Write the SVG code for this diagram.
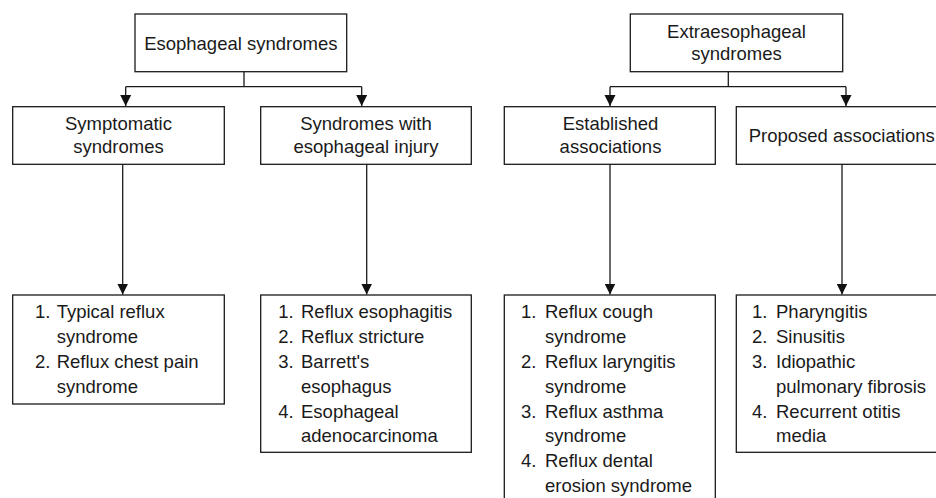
<svg xmlns="http://www.w3.org/2000/svg" width="936" height="498" viewBox="0 0 936 498">
<style>
.box{fill:#fff;stroke:#1a1a1a;stroke-width:1.3}
.t{font-family:"Liberation Sans",Arial,Helvetica,sans-serif;font-size:18.5px;fill:#1a1a1a}
.c{text-anchor:middle}
.ln{fill:none;stroke:#1a1a1a;stroke-width:1.3}
</style>
<defs>
<marker id="ah" markerUnits="userSpaceOnUse" markerWidth="12" markerHeight="12" viewBox="0 0 12 12" refX="11" refY="6" orient="auto">
<path d="M0,0.5 L11,6 L0,11.5 Z" fill="#111"/>
</marker>
</defs>
<rect width="936" height="498" fill="#fff"/>
<g id="connectors">
<path class="ln" d="M244,72 V86.7 M125.7,86.7 H361.7"/>
<path class="ln" d="M125.7,86.7 V106" marker-end="url(#ah)"/>
<path class="ln" d="M361.7,86.7 V106" marker-end="url(#ah)"/>
<path class="ln" d="M728.3,72 V86.7 M610,86.7 H846"/>
<path class="ln" d="M610,86.7 V106" marker-end="url(#ah)"/>
<path class="ln" d="M846,86.7 V106" marker-end="url(#ah)"/>
<path class="ln" d="M122.7,164.3 V294.5" marker-end="url(#ah)"/>
<path class="ln" d="M366.7,164.3 V294.5" marker-end="url(#ah)"/>
<path class="ln" d="M610,164.3 V294.5" marker-end="url(#ah)"/>
<path class="ln" d="M842,164.3 V294.5" marker-end="url(#ah)"/>
</g>
<g id="esophageal">
<rect class="box" x="135" y="14" width="211.7" height="57.7"/>
<text class="t c" x="240.8" y="50">Esophageal syndromes</text>
</g>
<g id="extraesophageal">
<rect class="box" x="630.3" y="14" width="212.4" height="57.7"/>
<text class="t c" x="736.5" y="37.6">Extraesophageal</text>
<text class="t c" x="736.5" y="60.3">syndromes</text>
</g>
<g id="symptomatic">
<rect class="box" x="12.7" y="106.7" width="211.6" height="57.6"/>
<text class="t c" x="118.5" y="130">Symptomatic</text>
<text class="t c" x="118.5" y="152.8">syndromes</text>
</g>
<g id="injury">
<rect class="box" x="260.7" y="106.7" width="210.6" height="57.6"/>
<text class="t c" x="366" y="130">Syndromes with</text>
<text class="t c" x="366" y="152.8">esophageal injury</text>
</g>
<g id="established">
<rect class="box" x="504.3" y="106.7" width="211" height="57.6"/>
<text class="t c" x="610.5" y="130">Established</text>
<text class="t c" x="610.5" y="152.8">associations</text>
</g>
<g id="proposed">
<rect class="box" x="736.3" y="106.7" width="212" height="57.6"/>
<text class="t c" x="841.7" y="141.7">Proposed associations</text>
</g>
<g id="symptomatic-list">
<rect class="box" x="12.7" y="295" width="211.6" height="109"/>
<text class="t" x="35" y="318.3">1.</text><text class="t" x="56.7" y="318.3">Typical reflux</text>
<text class="t" x="56.7" y="343.1">syndrome</text>
<text class="t" x="35" y="367.9">2.</text><text class="t" x="56.7" y="367.9">Reflux chest pain</text>
<text class="t" x="56.7" y="392.7">syndrome</text>
</g>
<g id="injury-list">
<rect class="box" x="260.7" y="295" width="210.6" height="157.3"/>
<text class="t" x="278.3" y="318.3">1.</text><text class="t" x="301" y="318.3">Reflux esophagitis</text>
<text class="t" x="278.3" y="343.1">2.</text><text class="t" x="301" y="343.1">Reflux stricture</text>
<text class="t" x="278.3" y="367.9">3.</text><text class="t" x="301" y="367.9">Barrett's</text>
<text class="t" x="301" y="392.7">esophagus</text>
<text class="t" x="278.3" y="417.5">4.</text><text class="t" x="301" y="417.5">Esophageal</text>
<text class="t" x="301" y="442.3">adenocarcinoma</text>
</g>
<g id="established-list">
<rect class="box" x="504.3" y="295" width="211" height="220"/>
<text class="t" x="521" y="318.3">1.</text><text class="t" x="545" y="318.3">Reflux cough</text>
<text class="t" x="545" y="343.1">syndrome</text>
<text class="t" x="521" y="367.9">2.</text><text class="t" x="545" y="367.9">Reflux laryngitis</text>
<text class="t" x="545" y="392.7">syndrome</text>
<text class="t" x="521" y="417.5">3.</text><text class="t" x="545" y="417.5">Reflux asthma</text>
<text class="t" x="545" y="442.3">syndrome</text>
<text class="t" x="521" y="467.1">4.</text><text class="t" x="545" y="467.1">Reflux dental</text>
<text class="t" x="545" y="491.9">erosion syndrome</text>
</g>
<g id="proposed-list">
<rect class="box" x="736.3" y="295" width="212" height="157.3"/>
<text class="t" x="752" y="318.3">1.</text><text class="t" x="776" y="318.3">Pharyngitis</text>
<text class="t" x="752" y="343.1">2.</text><text class="t" x="776" y="343.1">Sinusitis</text>
<text class="t" x="752" y="367.9">3.</text><text class="t" x="776" y="367.9">Idiopathic</text>
<text class="t" x="776" y="392.7">pulmonary fibrosis</text>
<text class="t" x="752" y="417.5">4.</text><text class="t" x="776" y="417.5">Recurrent otitis</text>
<text class="t" x="776" y="442.3">media</text>
</g>
</svg>
